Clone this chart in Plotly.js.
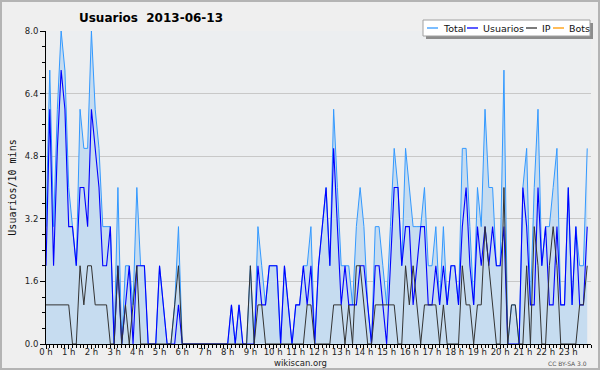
<!DOCTYPE html>
<html><head><meta charset="utf-8">
<script src="https://cdn.plot.ly/plotly-3.0.1.min.js"></script>
<style>
html,body{margin:0;padding:0;background:#efefef;}
#wrap{position:relative;width:600px;height:370px;}
#chart{width:600px;height:370px;}
#frame{position:absolute;left:0;top:0;width:600px;height:370px;box-sizing:border-box;border:2px solid #b4b4b4;pointer-events:none;}
</style>
</head><body><div id="wrap"><div id="chart"></div><div id="frame"></div></div>
<script>
// 10-minute slots, 144 per day
const seriesNames = ['Total', 'Usuarios', 'IP', 'Bots'];
const seriesColors = ['#3399ff', '#0000ff', '#333333', '#ff9900'];
const hourLabels = ['0 h','1 h','2 h','3 h','4 h','5 h','6 h','7 h','8 h','9 h','10 h','11 h','12 h','13 h','14 h','15 h','16 h','17 h','18 h','19 h','20 h','21 h','22 h','23 h'];
const yTickVals = [0, 1.6, 3.2, 4.8, 6.4, 8.0];
const yTickText = ['0.0', '1.6', '3.2', '4.8', '6.4', '8.0'];

const total = [
 3,7,3,6,8,7,4,3,2,6, 5,5,8,6,5,3,3,3,0,4, 0,2,2,1,4,2,2,0,0,0,
 2,1,0,0,1,3,0,0,0,0, 0,0,0,0,0,0,0,0,0,1, 0,1,0,0,2,0,3,2,1,2,
 2,2,0,2,1,0,1,1,2,2, 3,0,2,3,4,2,6,4,2,2, 2,1,3,4,3,1,0,3,3,2,
 1,3,5,4,2,5,4,3,3,3, 4,2,2,3,1,3,1,2,2,1, 5,5,3,1,4,3,6,4,4,2,
 2,7,0,1,1,0,4,5,1,4, 6,2,3,3,4,5,1,1,4,1, 3,2,2,5];
const usuarios = [
 2,6,2,5,7,6,3,3,2,4, 4,3,6,5,4,2,2,3,0,2, 0,1,2,0,2,2,2,0,0,0,
 2,1,0,0,0,1,0,0,0,0, 0,0,0,0,0,0,0,0,0,1, 0,1,0,0,0,0,2,1,1,2,
 2,2,0,2,1,0,1,1,2,1, 2,0,2,3,4,2,5,3,1,2, 1,1,1,2,2,1,0,2,2,1,
 0,2,4,4,2,3,3,1,2,3, 3,1,1,2,1,2,1,2,2,1, 3,4,2,1,3,2,3,2,3,2,
 2,3,0,0,0,0,4,3,1,1, 4,2,3,1,1,3,1,1,4,1, 3,1,1,3];
const ip = [
 1,1,1,1,1,1,1,0,0,2, 1,2,2,1,1,1,1,0,0,2, 0,1,0,1,2,0,0,0,0,0,
 0,0,0,0,1,2,0,0,0,0, 0,0,0,0,0,0,0,0,0,0, 0,0,0,0,2,0,1,1,0,0,
 0,0,0,0,0,0,0,0,0,1, 1,0,0,0,0,0,1,1,1,0, 1,0,2,2,1,0,0,1,1,1,
 1,1,1,0,0,2,1,2,1,0, 1,1,1,1,0,1,0,0,0,0, 2,1,1,0,1,1,3,2,1,0,
 0,4,0,1,1,0,0,2,0,3, 2,0,0,2,3,2,0,0,0,0, 0,1,1,2];
const bots = new Array(144).fill(0);

const x = total.map((_, i) => i / 6);

const traces = [
  {x: x, y: bots, name: seriesNames[3], type: 'scatter', mode: 'lines',
   line: {color: seriesColors[3], width: 1}},
  {x: x, y: total, name: seriesNames[0], type: 'scatter', mode: 'lines',
   line: {color: seriesColors[0], width: 1}, fill: 'tozeroy', fillcolor: '#c6dcf0'},
  {x: x, y: usuarios, name: seriesNames[1], type: 'scatter', mode: 'lines',
   line: {color: seriesColors[1], width: 1.1}},
  {x: x, y: ip, name: seriesNames[2], type: 'scatter', mode: 'lines',
   line: {color: seriesColors[2], width: 1}}
];

// plot area in pixels
const L = 46, R = 591, T = 31, B = 344;
const px = v => (v - L) / (R - L);
const py = v => 1 - (v - T) / (B - T);

const FONT = 'DejaVu Sans, sans-serif';
const shapes = [
  {type: 'rect', xref: 'paper', yref: 'paper', x0: px(426), x1: px(593), y0: py(23), y1: py(39),
   fillcolor: '#8c8c8c', line: {width: 0}},
  {type: 'rect', xref: 'paper', yref: 'paper', x0: px(423), x1: px(590), y0: py(20), y1: py(36),
   fillcolor: '#ffffff', line: {color: '#a0a0a0', width: 1}}
];
const annotations = [];
const legX = [427, 467, 526, 553];
seriesNames.forEach((n, k) => {
  shapes.push({type: 'line', xref: 'paper', yref: 'paper', x0: px(legX[k]), x1: px(legX[k] + 11),
    y0: py(28), y1: py(28), line: {color: seriesColors[k], width: 1.3}});
  annotations.push({xref: 'paper', yref: 'paper', x: px(legX[k] + 14), y: py(28.5), xanchor: 'left', yanchor: 'middle',
    text: n, showarrow: false, font: {family: FONT, size: 9.5, color: '#111'}});
});
annotations.push({xref: 'paper', yref: 'paper', x: px(589), y: py(363.5), xanchor: 'right', yanchor: 'middle',
  text: 'CC BY-SA 3.0', showarrow: false, font: {family: FONT, size: 6, color: '#555'}});
annotations.push({xref: 'paper', yref: 'paper', x: px(300), y: py(362.5), xanchor: 'center', yanchor: 'middle',
  text: 'wikiscan.org', showarrow: false, font: {family: FONT, size: 8.5, color: '#222'}});

const layout = {
  width: 600, height: 370,
  paper_bgcolor: '#efefef', plot_bgcolor: '#eceef0',
  margin: {l: L, r: 600 - R, t: T, b: 370 - B, pad: 0},
  showlegend: false,
  title: {text: '<b>Usuarios\u00a0\u00a02013-06-13</b>', x: 151 / 600, xanchor: 'center', xref: 'container',
    y: 1 - 18 / 370, yanchor: 'middle', yref: 'container',
    font: {family: FONT, size: 12, color: '#000'}},
  xaxis: {
    range: [0, 24], tickmode: 'array', tickvals: hourLabels.map((_, h) => h), ticktext: hourLabels,
    ticks: 'outside', ticklen: 4, tickcolor: '#000', tickwidth: 1, ticklabelstandoff: -4,
    showline: true, linecolor: '#000', linewidth: 1, showgrid: false, zeroline: false,
    minor: {tickmode: 'linear', tick0: 0, dtick: 1 / 6, ticks: 'outside', ticklen: 3, tickcolor: '#000', showgrid: false},
    tickfont: {family: FONT, size: 8.5, color: '#222'},
    fixedrange: true
  },
  yaxis: {
    range: [0, 8], tickmode: 'array', tickvals: yTickVals, ticktext: yTickText,
    ticks: 'outside', ticklen: 5, tickcolor: '#000', tickwidth: 1,
    showline: true, linecolor: '#000', linewidth: 1, gridcolor: '#c8c8c8', gridwidth: 1, zeroline: false,
    minor: {tickmode: 'linear', tick0: 0, dtick: 0.4, ticks: 'outside', ticklen: 3, tickcolor: '#000', showgrid: false},
    tickfont: {family: FONT, size: 8.5, color: '#222'},
    title: {text: 'Usuarios/10 mins', font: {family: 'DejaVu Sans Mono, monospace', size: 10, color: '#111'}, standoff: 6},
    fixedrange: true
  },
  shapes: shapes,
  annotations: annotations
};

Plotly.newPlot('chart', traces, layout, {staticPlot: true, displayModeBar: false});
</script>
</body></html>
